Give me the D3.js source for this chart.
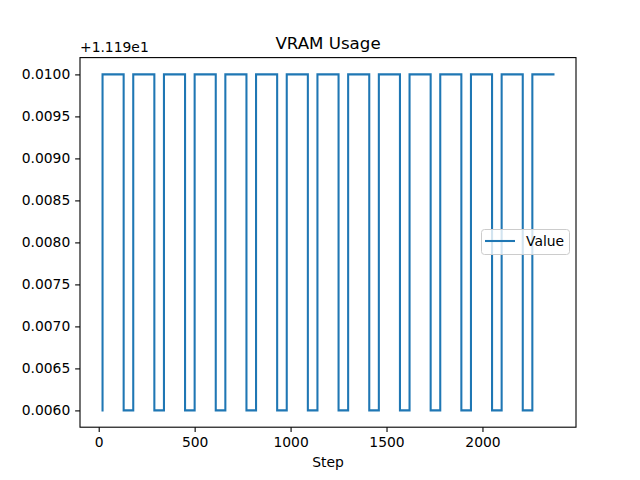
<!DOCTYPE html>
<html>
<head>
<meta charset="utf-8">
<script src="https://cdn.jsdelivr.net/npm/d3@7"></script>
<style>
  html, body { margin: 0; padding: 0; background: #fff; }
  svg { display: block; font-family: "DejaVu Sans", sans-serif; }
</style>
</head>
<body>
<svg id="chart" width="640" height="480"></svg>
<script>
// ---- data (change points of the VRAM trace, drawn as a step line) ----
const steps = [20, 20, 130, 180, 290, 340, 450, 500, 610, 660, 770, 820, 930, 980,
  1090, 1140, 1250, 1300, 1410, 1460, 1570, 1620, 1730, 1780, 1890, 1940,
  2050, 2100, 2210, 2260, 2370];
const values = [11.196, 11.2, 11.196, 11.2, 11.196, 11.2, 11.196, 11.2, 11.196, 11.2,
  11.196, 11.2, 11.196, 11.2, 11.196, 11.2, 11.196, 11.2, 11.196, 11.2,
  11.196, 11.2, 11.196, 11.2, 11.196, 11.2, 11.196, 11.2, 11.196, 11.2, 11.2];
const yOffset = 11.19;
const yOffsetLabel = "+1.119e1";
const xTicks = [0, 500, 1000, 1500, 2000];
const yTickRel = [0.0060, 0.0065, 0.0070, 0.0075, 0.0080, 0.0085, 0.0090, 0.0095, 0.0100];
const yTickLabels = ["0.0060", "0.0065", "0.0070", "0.0075", "0.0080", "0.0085", "0.0090", "0.0095", "0.0100"];
const seriesName = "Value";
const chartTitle = "VRAM Usage";
const xLabel = "Step";

(function () {
const data = steps.map((s, i) => ({ x: s, y: values[i] }));

// ---- layout ----
const pL = 80, pR = 576, pT = 57.6, pB = 427.2;
const svg = d3.select("#chart");
const color = "#1f77b4";
const fs = 13.89;

const xmin = d3.min(steps), xmax = d3.max(steps);
const xpad = (xmax - xmin) * 0.05;
const x = d3.scaleLinear().domain([xmin - xpad, xmax + xpad]).range([pL, pR]);
const ymin = d3.min(values), ymax = d3.max(values);
const ypad = (ymax - ymin) * 0.05;
const y = d3.scaleLinear().domain([ymin - ypad, ymax + ypad]).range([pB, pT]);

svg.append("defs").append("clipPath").attr("id", "clip")
  .append("rect").attr("x", pL).attr("y", pT).attr("width", pR - pL).attr("height", pB - pT);

const line = d3.line().x(d => x(d.x)).y(d => y(d.y)).curve(d3.curveStepAfter);
svg.append("path").datum(data)
  .attr("clip-path", "url(#clip)")
  .attr("fill", "none").attr("stroke", color).attr("stroke-width", 2.08)
  .attr("stroke-linejoin", "miter").attr("stroke-linecap", "square")
  .attr("d", line);

const tickLen = 4.86;
const xAxis = d3.axisBottom(x).tickValues(xTicks).tickSize(tickLen).tickPadding(4.86).tickFormat(d3.format("d"));
const gx = svg.append("g").attr("transform", `translate(0,${pB})`).call(xAxis);
gx.select(".domain").remove();
gx.selectAll("line").attr("stroke", "#000").attr("stroke-width", 1.1);
gx.selectAll("text").attr("font-size", fs).attr("fill", "#000").attr("font-family", "DejaVu Sans");

const yAxis = d3.axisLeft(y).tickValues(yTickRel.map(v => v + yOffset)).tickSize(tickLen).tickPadding(4.86)
  .tickFormat((d, i) => yTickLabels[i]);
const gy = svg.append("g").attr("transform", `translate(${pL},0)`).call(yAxis);
gy.select(".domain").remove();
gy.selectAll("line").attr("stroke", "#000").attr("stroke-width", 1.1);
gy.selectAll("text").attr("font-size", fs).attr("fill", "#000").attr("font-family", "DejaVu Sans");

svg.append("rect").attr("x", pL).attr("y", pT).attr("width", pR - pL).attr("height", pB - pT)
  .attr("fill", "none").attr("stroke", "#000").attr("stroke-width", 1.1);

svg.append("text").attr("x", pL).attr("y", 52).attr("font-size", fs).text(yOffsetLabel);

svg.append("text").attr("x", (pL + pR) / 2).attr("y", 49).attr("text-anchor", "middle")
  .attr("font-size", 16.67).text(chartTitle);

svg.append("text").attr("x", (pL + pR) / 2).attr("y", 467).attr("text-anchor", "middle")
  .attr("font-size", fs).text(xLabel);

const lg = svg.append("g");
lg.append("rect").attr("x", 481.5).attr("y", 229.5).attr("width", 88).attr("height", 25)
  .attr("rx", 3).attr("fill", "#fff").attr("fill-opacity", 0.8).attr("stroke", "#cccccc").attr("stroke-width", 1);
lg.append("line").attr("x1", 485).attr("x2", 515).attr("y1", 241).attr("y2", 241)
  .attr("stroke", color).attr("stroke-width", 2.08);
lg.append("text").attr("x", 526).attr("y", 246).attr("font-size", fs).text(seriesName);
})();
</script>
</body>
</html>
